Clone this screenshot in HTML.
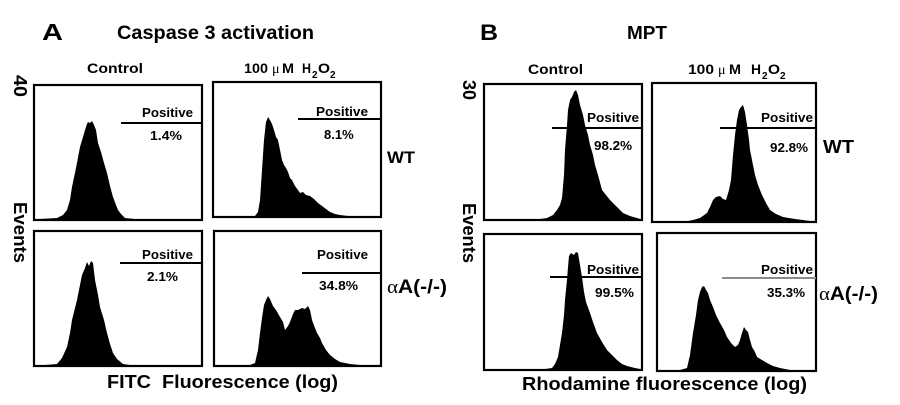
<!DOCTYPE html>
<html><head><meta charset="utf-8"><style>
html,body{margin:0;padding:0;background:#fff;}
svg{display:block;}
text{font-family:"Liberation Sans",Arial,sans-serif;font-weight:bold;fill:#000;}
.sym{font-family:"Liberation Serif","DejaVu Serif",serif;font-weight:normal;}
</style></head><body>
<svg width="900" height="405" viewBox="0 0 900 405" xmlns="http://www.w3.org/2000/svg">
<rect x="0" y="0" width="900" height="405" fill="#fff"/>

<!-- Panel A titles -->
<text x="42" y="40" font-size="23" textLength="21" lengthAdjust="spacingAndGlyphs">A</text>
<text x="117" y="39" font-size="19" textLength="197" lengthAdjust="spacingAndGlyphs">Caspase 3 activation</text>
<text x="87" y="73" font-size="14" textLength="56" lengthAdjust="spacingAndGlyphs">Control</text>
<text x="244" y="73" font-size="14" textLength="24" lengthAdjust="spacingAndGlyphs">100</text>
<text x="272" y="73" font-size="14" class="sym">μ</text>
<text x="282" y="73" font-size="14" textLength="12" lengthAdjust="spacingAndGlyphs">M</text>
<text x="302" y="73" font-size="14" textLength="9" lengthAdjust="spacingAndGlyphs">H</text>
<text x="312" y="78" font-size="10">2</text>
<text x="318" y="73" font-size="14" textLength="12" lengthAdjust="spacingAndGlyphs">O</text>
<text x="330" y="78" font-size="10">2</text>

<!-- Panel A y labels -->
<text transform="translate(14,75) rotate(90)" font-size="18" textLength="22" lengthAdjust="spacingAndGlyphs">40</text>
<text transform="translate(14,202) rotate(90)" font-size="18" textLength="61" lengthAdjust="spacingAndGlyphs">Events</text>

<!-- A histograms -->
<polygon fill="#000" points="40,219 57,218 63,215 67,210 70,200 72,187 76,168 80,147 83,137 85,130 87,124 88,122 90,123 92,121 94,125 96,130 98,143 101,152 104,163 107,173 110,186 113,197 116,205 118,210 121,214 125,218 135,219"/>
<polygon fill="#000" points="255,216 258,212 260,200 262,170 264,140 266,122 268,117 270,120 272,124 274,130 276,137 278,140 280,150 282,160 284,165 286,168 288,172 290,178 292,180 295,186 298,190 300,193 303,192 306,195 310,196 314,199 318,203 322,206 326,209 330,212 335,214 340,215 348,216"/>
<polygon fill="#000" points="45,365 57,364 62,358 67,347 70,333 72,320 75,308 77,300 80,285 82,275 85,268 87,262 89,266 91,261 93,263 95,280 98,295 100,307 104,320 107,333 110,344 113,353 117,359 123,364 130,365"/>
<polygon fill="#000" points="250,365 255,363 258,350 260,333 262,318 264,305 266,300 268,296 270,299 273,306 276,310 280,317 283,322 285,330 288,326 290,322 293,314 295,310 298,310 302,308 305,309 308,306 310,310 312,320 315,328 317,333 320,338 322,343 326,350 330,355 335,359 340,362 350,364 360,365"/>

<!-- A boxes -->
<g fill="none" stroke="#000" stroke-width="2.2">
<rect x="34" y="85" width="168" height="135"/>
<rect x="213" y="82" width="168" height="135"/>
<rect x="34" y="231" width="168" height="135"/>
<rect x="214" y="231" width="167" height="135"/>
</g>
<g stroke="#000" stroke-width="2">
<line x1="121" y1="123" x2="202" y2="123"/>
<line x1="298" y1="119" x2="381" y2="119"/>
<line x1="120" y1="263" x2="202" y2="263"/>
<line x1="302" y1="273" x2="381" y2="273"/>
</g>
<text x="142" y="117" font-size="13" textLength="51" lengthAdjust="spacingAndGlyphs">Positive</text>
<text x="150" y="140" font-size="13" textLength="32" lengthAdjust="spacingAndGlyphs">1.4%</text>
<text x="316" y="116" font-size="13" textLength="52" lengthAdjust="spacingAndGlyphs">Positive</text>
<text x="324" y="139" font-size="13">8.1%</text>
<text x="142" y="259" font-size="13" textLength="51" lengthAdjust="spacingAndGlyphs">Positive</text>
<text x="147" y="281" font-size="13" textLength="31" lengthAdjust="spacingAndGlyphs">2.1%</text>
<text x="317" y="259" font-size="13" textLength="51" lengthAdjust="spacingAndGlyphs">Positive</text>
<text x="319" y="290" font-size="13" textLength="39" lengthAdjust="spacingAndGlyphs">34.8%</text>

<text x="387" y="163" font-size="17" textLength="28" lengthAdjust="spacingAndGlyphs">WT</text>
<text x="387" y="293" font-size="19" textLength="60" lengthAdjust="spacingAndGlyphs"><tspan class="sym">α</tspan>A(-/-)</text>

<text x="107" y="388" font-size="18" textLength="231" lengthAdjust="spacingAndGlyphs">FITC&#160; Fluorescence (log)</text>

<!-- Panel B titles -->
<text x="480" y="40" font-size="22" textLength="18" lengthAdjust="spacingAndGlyphs">B</text>
<text x="627" y="39" font-size="18" textLength="40" lengthAdjust="spacingAndGlyphs">MPT</text>
<text x="528" y="74" font-size="14" textLength="55" lengthAdjust="spacingAndGlyphs">Control</text>
<text x="688" y="74" font-size="14" textLength="26" lengthAdjust="spacingAndGlyphs">100</text>
<text x="718" y="74" font-size="14" class="sym">μ</text>
<text x="729" y="74" font-size="14" textLength="12" lengthAdjust="spacingAndGlyphs">M</text>
<text x="751" y="74" font-size="14" textLength="10" lengthAdjust="spacingAndGlyphs">H</text>
<text x="762" y="79" font-size="10">2</text>
<text x="768" y="74" font-size="14" textLength="12" lengthAdjust="spacingAndGlyphs">O</text>
<text x="780" y="79" font-size="10">2</text>

<text transform="translate(463,80) rotate(90)" font-size="18" textLength="20" lengthAdjust="spacingAndGlyphs">30</text>
<text transform="translate(463,203) rotate(90)" font-size="18" textLength="60" lengthAdjust="spacingAndGlyphs">Events</text>

<!-- B histograms -->
<polygon fill="#000" points="540,219 547,218 553,215 557,210 560,205 562,198 564,175 565,150 567,125 568,110 570,100 572,97 574,92 576,90 578,95 580,105 583,115 585,125 588,135 590,145 593,155 595,165 598,175 602,190 606,195 610,200 614,204 617,207 620,210 623,213 630,216 637,218 640,219"/>
<polygon fill="#000" points="688,221 693,220 700,218 707,213 710,207 713,200 716,197 720,196 723,199 726,200 729,190 731,180 733,155 735,135 737,120 739,110 741,107 743,105 745,112 747,125 749,140 750,150 753,165 755,175 758,185 762,195 766,203 770,210 776,214 783,217 795,219 803,220 810,221"/>
<polygon fill="#000" points="545,369 552,368 555,364 558,357 560,345 562,333 564,315 565,300 567,280 568,267 569,256 571,253 574,255 576,252 578,253 580,265 582,277 584,292 586,302 590,313 593,322 597,333 602,342 607,350 612,355 617,360 622,364 627,366 635,368 640,369"/>
<polygon fill="#000" points="680,370 687,368 690,355 693,333 696,315 698,300 700,292 702,287 704,286 706,290 708,293 710,300 713,307 716,315 720,323 724,330 727,337 731,343 735,347 738,345 740,340 742,333 744,327 746,330 748,332 750,340 752,347 755,352 757,357 762,360 767,363 773,366 780,368 790,370"/>

<g fill="none" stroke="#000" stroke-width="2.2">
<rect x="484" y="84" width="158" height="136"/>
<rect x="652" y="83" width="164" height="139"/>
<rect x="484" y="234" width="158" height="136"/>
<rect x="657" y="233" width="159" height="138"/>
</g>
<g stroke="#000" stroke-width="2">
<line x1="552" y1="128" x2="642" y2="128"/>
<line x1="720" y1="128" x2="816" y2="128"/>
<line x1="550" y1="277" x2="642" y2="277"/>
</g>
<line x1="722" y1="278" x2="816" y2="278" stroke="#8a8a8a" stroke-width="2"/>
<text x="587" y="122" font-size="13" textLength="52" lengthAdjust="spacingAndGlyphs">Positive</text>
<text x="594" y="150" font-size="13" textLength="38" lengthAdjust="spacingAndGlyphs">98.2%</text>
<text x="761" y="122" font-size="13" textLength="52" lengthAdjust="spacingAndGlyphs">Positive</text>
<text x="770" y="152" font-size="13" textLength="38" lengthAdjust="spacingAndGlyphs">92.8%</text>
<text x="587" y="274" font-size="13" textLength="52" lengthAdjust="spacingAndGlyphs">Positive</text>
<text x="595" y="297" font-size="13" textLength="39" lengthAdjust="spacingAndGlyphs">99.5%</text>
<text x="761" y="274" font-size="13" textLength="52" lengthAdjust="spacingAndGlyphs">Positive</text>
<text x="767" y="297" font-size="13" textLength="38" lengthAdjust="spacingAndGlyphs">35.3%</text>

<text x="823" y="153" font-size="18" textLength="31" lengthAdjust="spacingAndGlyphs">WT</text>
<text x="819" y="300" font-size="19" textLength="59" lengthAdjust="spacingAndGlyphs"><tspan class="sym">α</tspan>A(-/-)</text>

<text x="522" y="390" font-size="18" textLength="285" lengthAdjust="spacingAndGlyphs">Rhodamine fluorescence (log)</text>
</svg>
</body></html>
